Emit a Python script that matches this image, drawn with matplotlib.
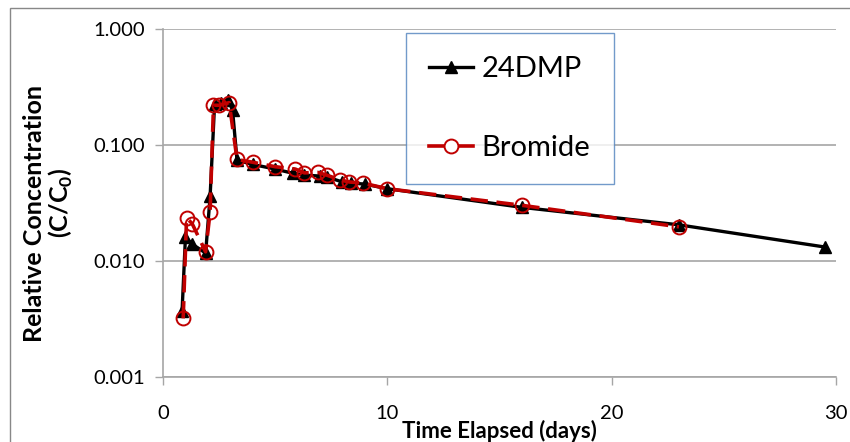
import matplotlib
matplotlib.use("Agg")
import matplotlib.pyplot as plt
from matplotlib.patches import Rectangle

# ---------- data ----------
dmp_days = [0.85, 1.0, 1.3, 1.9, 2.1, 2.3, 2.6, 2.9, 3.1, 3.3, 4.0, 5.0, 5.8, 6.3, 7.0, 7.3,
            8.0, 8.4, 9.0, 10.0, 16.0, 23.0, 29.5]
dmp_conc = [0.0037, 0.016, 0.014, 0.0117, 0.036, 0.225, 0.23, 0.245, 0.2, 0.074, 0.068, 0.062,
            0.057, 0.055, 0.054, 0.053, 0.048, 0.047, 0.046, 0.042, 0.029, 0.0205, 0.0132]

bromide_days = [0.9, 1.05, 1.3, 1.9, 2.1, 2.25, 2.5, 2.95, 3.3, 4.0, 5.0, 5.9, 6.3, 6.9, 7.3,
                7.9, 8.3, 8.9, 10.0, 16.0, 23.0]
bromide_conc = [0.0032, 0.0235, 0.021, 0.012, 0.0265, 0.22, 0.22, 0.232, 0.075, 0.071, 0.065,
                0.062, 0.0575, 0.058, 0.055, 0.05, 0.048, 0.047, 0.042, 0.0302, 0.0197]

x_ticks = [0, 10, 20, 30]
y_ticks = [0.001, 0.01, 0.1, 1.0]
y_tick_labels = ["0.001", "0.010", "0.100", "1.000"]

# ---------- style ----------
plt.rcParams.update({
    "font.family": ["Lato", "DejaVu Sans"],
    "mathtext.fontset": "custom",
    "mathtext.rm": "Lato",
    "mathtext.bf": "Lato:bold",
})

grid_color = "#a6a6a6"
red = "#c00000"

fig = plt.figure(figsize=(8.5, 4.42), dpi=100)
ax = fig.add_axes([163 / 850, 1 - 377 / 442, 673 / 850, 348 / 442])

ax.plot(dmp_days, dmp_conc, color="black", linewidth=2.4, marker="^", markersize=8,
        markerfacecolor="black", markeredgecolor="black", label="24DMP", zorder=3)
ax.plot(bromide_days, bromide_conc, color=red, linewidth=2.6, linestyle=(0, (4.8, 2.4)),
        marker="o", markersize=10, markerfacecolor="none", markeredgecolor=red,
        markeredgewidth=1.4, label="Bromide", zorder=4)

ax.set_yscale("log")
ax.set_xlim(0, 30)
ax.set_ylim(0.001, 1.0)
ax.set_xticks(x_ticks)
ax.set_xticklabels([str(t) for t in x_ticks])
ax.set_yticks(y_ticks)
ax.set_yticklabels(y_tick_labels)
ax.minorticks_off()

ax.grid(True, axis="y", color=grid_color, linewidth=1.2)
ax.set_axisbelow(True)
for side in ["top", "right"]:
    ax.spines[side].set_visible(False)
for side in ["left", "bottom"]:
    ax.spines[side].set_color(grid_color)
    ax.spines[side].set_linewidth(1.2)
ax.tick_params(axis="both", colors=grid_color, labelcolor="black", labelsize=14.5,
               length=6, width=1.0, direction="out")
ax.tick_params(axis="x", pad=14)
ax.tick_params(axis="y", pad=7)

ax.set_xlabel("Time Elapsed (days)", fontsize=16, fontweight="bold", labelpad=-1)

# two-line y label
fig.text(35 / 850, 1 - 214 / 442, "Relative Concentration", rotation=90, fontsize=18,
         fontweight="bold", ha="center", va="center")
fig.text(61 / 850, 1 - 203 / 442, r"(C/C$_{\mathbf{0}}$)", rotation=90, fontsize=18,
         fontweight="bold", ha="center", va="center")

leg = ax.legend(loc="upper left", bbox_to_anchor=(406 / 850, 1 - 33 / 442),
                bbox_transform=fig.transFigure, fontsize=21, frameon=True, fancybox=False,
                edgecolor="#4f81bd", handlelength=1.5, handletextpad=0.3,
                labelspacing=1.8, borderpad=0.8, borderaxespad=0)
leg.get_frame().set_linewidth(1.0)
leg.legend_handles[1].set_markerfacecolor("white")
leg.legend_handles[1].set_linestyle("-")

# thin outer border of the chart area
fig.add_artist(Rectangle((10 / 850, -0.1), 2.0, 1.1 - 8 / 442, transform=fig.transFigure,
                         fill=False, edgecolor="#888888", linewidth=1.0))

fig.savefig("out.png", dpi=100)
